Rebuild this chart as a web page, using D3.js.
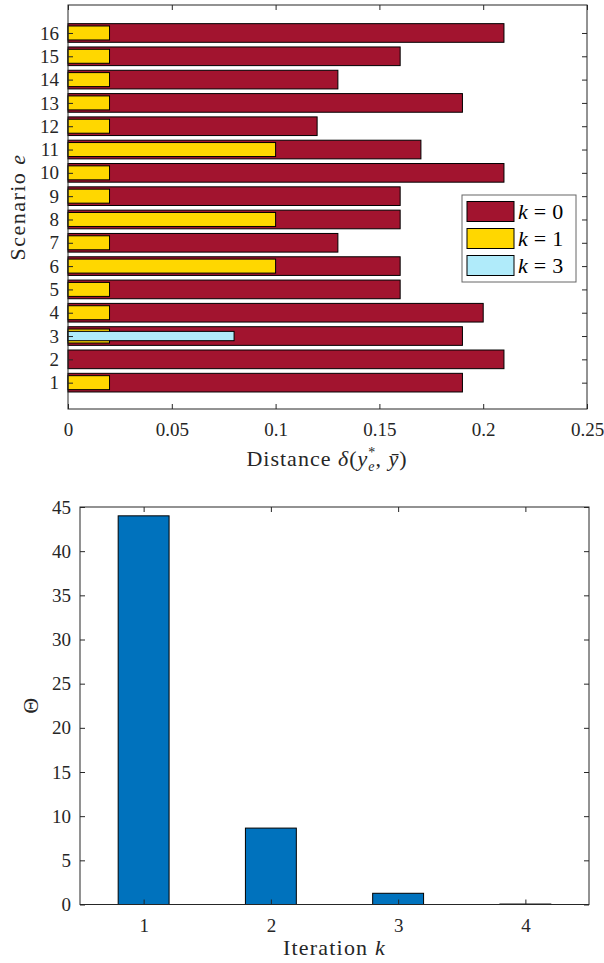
<!DOCTYPE html>
<html>
<head>
<meta charset="utf-8">
<script src="https://cdn.jsdelivr.net/npm/d3@7"></script>
<style>
	body { margin: 0; background: #fff; }
</style>
</head>
<body>
<div id="chart"></div>
<script>
const scenarios = [1, 2, 3, 4, 5, 6, 7, 8, 9, 10, 11, 12, 13, 14, 15, 16];
const dist_k0 = [0.19, 0.21, 0.19, 0.20, 0.16, 0.16, 0.13, 0.16, 0.16, 0.21, 0.17, 0.12, 0.19, 0.13, 0.16, 0.21];
const dist_k1 = [0.02, 0, 0.02, 0.02, 0.02, 0.10, 0.02, 0.10, 0.02, 0.02, 0.10, 0.02, 0.02, 0.02, 0.02, 0.02];
const dist_k3 = [0, 0, 0.08, 0, 0, 0, 0, 0, 0, 0, 0, 0, 0, 0, 0, 0];
const dist_ticks = [0, 0.05, 0.1, 0.15, 0.2, 0.25];

const iterations = [1, 2, 3, 4];
const theta = [44.0, 8.65, 1.27, 0.05];
const theta_ticks = [0, 5, 10, 15, 20, 25, 30, 35, 40, 45];

const series = [
	{ label: '0', values: dist_k0, color: '#a2142f', band: 0.8 },
	{ label: '1', values: dist_k1, color: '#ffd700', band: 0.6 },
	{ label: '3', values: dist_k3, color: '#b0ebfa', band: 0.4 }
];

const width = 604;
const height = 963;
const axisColor = '#262626';
const tickLen = 5;

const svg = d3.select('#chart')
	.append('svg')
	.attr('width', width)
	.attr('height', height);

// ---------- top: horizontal bars ----------
const box1 = { left: 68, right: 587, top: 5, bottom: 409 };

const xDist = d3.scaleLinear()
	.domain([0, 0.25])
	.range([box1.left, box1.right]);

const yScen = d3.scaleLinear()
	.domain([-0.13, 17.2])
	.range([box1.bottom, box1.top]);

const g1 = svg.append('g');

series.forEach(s => {
	const half = s.band / 2;
	g1.append('g')
		.selectAll('rect')
		.data(scenarios.map((e, i) => ({ e, v: s.values[i] })).filter(d => s.label !== '3' || d.v > 0))
		.enter()
		.append('rect')
		.attr('x', xDist(0))
		.attr('y', d => yScen(d.e + half))
		.attr('width', d => xDist(d.v) - xDist(0))
		.attr('height', yScen(0) - yScen(s.band))
		.attr('fill', s.color)
		.attr('stroke', '#000')
		.attr('stroke-width', 1);
});

function boxAxes(g, b, xScale, xTicks, yScale, yTicks, xFmt, yFmt) {
	const bottomAxis = d3.axisBottom(xScale).tickValues(xTicks).tickSize(-tickLen).tickPadding(14).tickFormat(xFmt);
	const leftAxis = d3.axisLeft(yScale).tickValues(yTicks).tickSize(-tickLen).tickPadding(9).tickFormat(yFmt);
	const topAxis = d3.axisTop(xScale).tickValues(xTicks).tickSize(-tickLen).tickFormat('');
	const rightAxis = d3.axisRight(yScale).tickValues(yTicks).tickSize(-tickLen).tickFormat('');

	const axes = [
		g.append('g').attr('transform', `translate(0, ${b.bottom})`).call(bottomAxis),
		g.append('g').attr('transform', `translate(${b.left}, 0)`).call(leftAxis),
		g.append('g').attr('transform', `translate(0, ${b.top})`).call(topAxis),
		g.append('g').attr('transform', `translate(${b.right}, 0)`).call(rightAxis)
	];
	axes.forEach(a => {
		a.attr('font-size', 19);
		a.select('.domain').remove();
		a.selectAll('line').attr('stroke', axisColor);
		a.selectAll('text').attr('fill', axisColor);
	});

	g.append('rect')
		.attr('x', b.left)
		.attr('y', b.top)
		.attr('width', b.right - b.left)
		.attr('height', b.bottom - b.top)
		.attr('fill', 'none')
		.attr('stroke', axisColor)
		.attr('stroke-width', 1);
}

boxAxes(g1, box1, xDist, dist_ticks, yScen, scenarios, d3.format(''), d3.format('d'));

// x label: Distance δ(y*_e, ȳ)
const xl = g1.append('text')
	.attr('x', 327)
	.attr('y', 466)
	.attr('text-anchor', 'middle')
	.attr('fill', axisColor)
	.attr('font-size', 22)
	.attr('letter-spacing', 1);
xl.append('tspan').text('Distance ');
xl.append('tspan').attr('font-style', 'italic').text('δ');
xl.append('tspan').text('(');
xl.append('tspan').attr('font-style', 'italic').text('y');
xl.append('tspan').attr('dy', -9).attr('font-size', 14).text('*');
xl.append('tspan').attr('dx', -8).attr('dy', 14).attr('font-size', 14).attr('font-style', 'italic').text('e');
xl.append('tspan').attr('dy', -5).text(', ');
xl.append('tspan').attr('font-style', 'italic').text('y\u0304');
xl.append('tspan').text(')');

// y label
const yl = g1.append('text')
	.attr('transform', `translate(25, ${(box1.top + box1.bottom) / 2}) rotate(-90)`)
	.attr('text-anchor', 'middle')
	.attr('fill', axisColor)
	.attr('font-size', 22)
	.attr('letter-spacing', 1.5);
yl.append('tspan').text('Scenario ');
yl.append('tspan').attr('font-style', 'italic').text('e');

// legend
const legend = g1.append('g').attr('transform', 'translate(462, 195)');
legend.append('rect')
	.attr('width', 114)
	.attr('height', 87)
	.attr('fill', '#fff')
	.attr('stroke', '#666')
	.attr('stroke-width', 1);

const items = legend.selectAll('g.item')
	.data(series)
	.enter()
	.append('g')
	.attr('class', 'item')
	.attr('transform', (d, i) => `translate(5, ${6.5 + i * 27})`);

items.append('rect')
	.attr('width', 47)
	.attr('height', 20)
	.attr('fill', d => d.color)
	.attr('stroke', '#000')
	.attr('stroke-width', 1);

const lt = items.append('text')
	.attr('x', 51)
	.attr('y', 17)
	.attr('fill', '#000')
	.attr('font-size', 22);
lt.append('tspan').attr('font-style', 'italic').text('k');
lt.append('tspan').attr('dx', 6).text('=');
lt.append('tspan').attr('dx', 6).text(d => d.label);

// ---------- bottom: Theta per iteration ----------
const box2 = { left: 80, right: 589, top: 507, bottom: 904.5 };

const xIter = d3.scaleLinear()
	.domain([0.5, 4.5])
	.range([box2.left, box2.right]);

const yTheta = d3.scaleLinear()
	.domain([0, 45])
	.range([box2.bottom, box2.top]);

const g2 = svg.append('g');
const barW = 0.4;

g2.selectAll('rect.bar')
	.data(iterations.map((k, i) => ({ k, v: theta[i] })))
	.enter()
	.append('rect')
	.attr('class', 'bar')
	.attr('x', d => xIter(d.k - barW / 2))
	.attr('y', d => yTheta(d.v))
	.attr('width', xIter(barW) - xIter(0))
	.attr('height', d => yTheta(0) - yTheta(d.v))
	.attr('fill', '#0072bd')
	.attr('stroke', '#000')
	.attr('stroke-width', 1);

boxAxes(g2, box2, xIter, iterations, yTheta, theta_ticks, d3.format('d'), d3.format('d'));

const bl = g2.append('text')
	.attr('x', (box2.left + box2.right) / 2)
	.attr('y', 955)
	.attr('text-anchor', 'middle')
	.attr('fill', axisColor)
	.attr('font-size', 22)
	.attr('letter-spacing', 1.2);
bl.append('tspan').text('Iteration ');
bl.append('tspan').attr('font-style', 'italic').text('k');

g2.append('text')
	.attr('transform', `translate(38, ${(box2.top + box2.bottom) / 2}) rotate(-90)`)
	.attr('text-anchor', 'middle')
	.attr('fill', axisColor)
	.attr('font-size', 22)
	.text('Θ');

// one serif face for every label (axis groups default to sans-serif)
svg.selectAll('g').attr('font-family', null);
svg.selectAll('text').attr('font-family', "'Liberation Serif'");
</script>
</body>
</html>
